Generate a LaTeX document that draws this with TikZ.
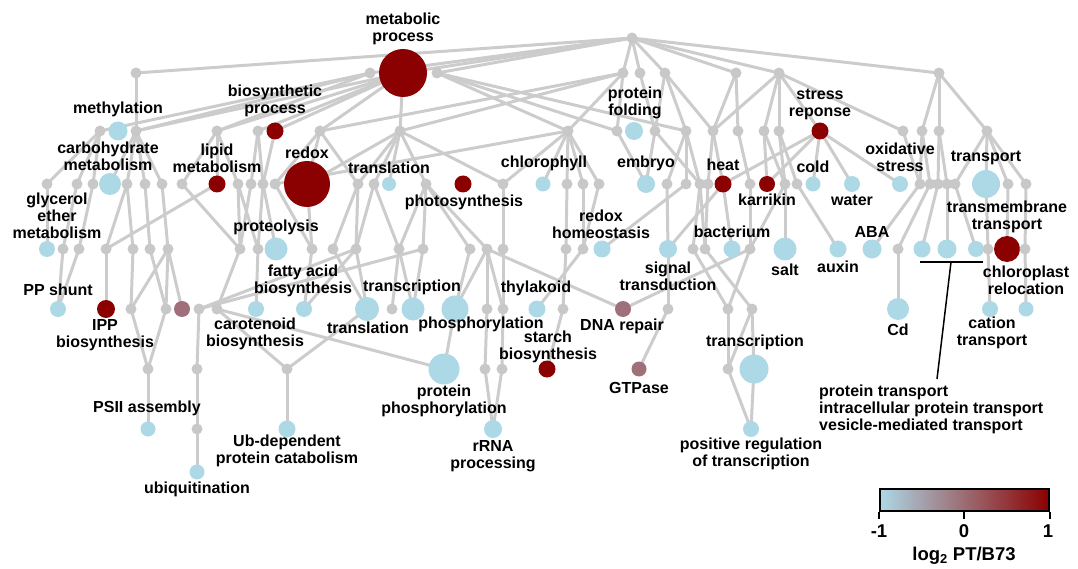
\documentclass[tikz,border=0pt]{standalone}
\usepackage{fontspec}
\setmainfont{Liberation Sans}
\usetikzlibrary{backgrounds}
\definecolor{edgegray}{HTML}{CCCCCC}
\definecolor{nodegray}{HTML}{C8C8C8}
\definecolor{upblue}{HTML}{ADD8E6}
\definecolor{downred}{HTML}{8B0000}
\definecolor{midmauve}{HTML}{A0707A}
\definecolor{barmid}{HTML}{A595A0}
% gray branch vertex and coloured term vertex
\newcommand\gvx[3]{\node[gn] (#1) at (#2,#3) {};}
\newcommand\tvx[5]{\node[cn, fill=#4, minimum size=#5] (#1) at (#2,#3) {};}
\begin{document}
\begin{tikzpicture}[x=1pt, y=-1pt,
  gn/.style={circle, fill=nodegray, inner sep=0pt, minimum size=11pt},
  cn/.style={circle, inner sep=0pt},
  lbl/.style={font=\fontsize{16}{17}\selectfont\bfseries, align=center, inner sep=0pt, text=black},
  bartxt/.style={font=\fontsize{18.5}{20}\selectfont\bfseries, inner sep=0pt},
  edge/.style={draw=edgegray, line width=3pt}]
\useasboundingbox (0,0) rectangle (1078,569);

% ---- vertices ----
\gvx{r}{632}{38}
% level a
\gvx{a136}{136}{73} \gvx{a370}{370}{73} \tvx{a403}{403}{73}{downred}{48}
\gvx{a437}{437}{73} \gvx{a623}{623}{73} \gvx{a640}{640}{73} \gvx{a665}{665}{73}
\gvx{a736}{736}{73} \gvx{a779}{779}{73} \gvx{a939}{939}{73}
% level b
\gvx{b100}{100}{131} \tvx{b118}{118}{131}{upblue}{19} \gvx{b136}{136}{131}
\gvx{b217}{217}{131} \gvx{b258}{258}{131} \tvx{b275}{275}{131}{downred}{17}
\gvx{b320}{320}{131} \gvx{b400}{400}{131} \gvx{b568}{568}{131} \gvx{b617}{617}{131}
\tvx{b634}{634}{131}{upblue}{18} \gvx{b655}{655}{131} \gvx{b686}{686}{131}
\gvx{b713}{713}{131} \gvx{b738}{738}{131} \gvx{b764}{764}{131} \gvx{b779}{779}{131}
\tvx{b820}{820}{131}{downred}{17} \gvx{b903}{903}{131} \gvx{b922}{922}{131}
\gvx{b939}{939}{131} \gvx{b987}{987}{131}
% level c
\gvx{c47}{47}{184} \gvx{c77}{77}{184} \gvx{c93}{93}{184} \tvx{c110}{110}{184}{upblue}{22}
\gvx{c127}{127}{184} \gvx{c145}{145}{184} \gvx{c162}{162}{184} \gvx{c182}{182}{184}
\tvx{c217}{217}{184}{downred}{17} \gvx{c238}{238}{184} \gvx{c251}{251}{184}
\gvx{c263}{263}{184} \gvx{c275}{275}{184} \tvx{c307}{307}{184}{downred}{46}
\gvx{c358}{358}{184} \gvx{c374}{374}{184} \tvx{c389}{389}{184}{upblue}{14}
\gvx{c426}{426}{184} \tvx{c463}{463}{184}{downred}{17} \gvx{c503}{503}{184}
\tvx{c543}{543}{184}{upblue}{15} \gvx{c567}{567}{184} \gvx{c583}{583}{184}
\gvx{c599}{599}{184} \tvx{c646}{646}{184}{upblue}{18} \gvx{c667}{667}{184}
\gvx{c686}{686}{184} \gvx{c700}{700}{184} \gvx{c708}{708}{184}
\tvx{c723}{723}{184}{downred}{17} \gvx{c750}{750}{184} \tvx{c767}{767}{184}{downred}{16}
\gvx{c785}{785}{184} \gvx{c797}{797}{184} \tvx{c813}{813}{184}{upblue}{15}
\tvx{c852}{852}{184}{upblue}{16} \tvx{c900}{900}{184}{upblue}{16}
\gvx{c920}{920}{184} \gvx{c930}{930}{184} \gvx{c938}{938}{184} \gvx{c947}{947}{184}
\gvx{c955}{955}{184} \tvx{c986}{986}{184}{upblue}{28} \gvx{c1008}{1008}{184}
\gvx{c1026}{1026}{184}
% level d
\tvx{d47}{47}{249}{upblue}{16} \gvx{d63}{63}{249} \gvx{d79}{79}{249} \gvx{d106}{106}{249}
\gvx{d133}{133}{249} \gvx{d150}{150}{249} \gvx{d168}{168}{249} \gvx{d240}{240}{249}
\gvx{d258}{258}{249} \tvx{d276}{276}{249}{upblue}{23} \gvx{d312}{312}{249}
\gvx{d333}{333}{249} \gvx{d356}{356}{249} \gvx{d399}{399}{249} \gvx{d423}{423}{249}
\gvx{d470}{470}{249} \gvx{d487}{487}{249} \gvx{d503}{503}{249} \gvx{d566}{566}{249}
\gvx{d583}{583}{249} \tvx{d602}{602}{249}{upblue}{17} \tvx{d668}{668}{249}{upblue}{18}
\gvx{d693}{693}{249} \gvx{d705}{705}{249} \tvx{d732}{732}{249}{upblue}{17}
\gvx{d750}{750}{249} \tvx{d785}{785}{249}{upblue}{23} \tvx{d838}{838}{249}{upblue}{17}
\tvx{d872}{872}{249}{upblue}{19} \gvx{d898}{898}{249} \tvx{d922}{922}{249}{upblue}{17}
\tvx{d947}{947}{249}{upblue}{19} \tvx{d976}{976}{249}{upblue}{16} \gvx{d988}{988}{249}
\tvx{d1007}{1007}{249}{downred}{26} \gvx{d1025}{1025}{249}
% level e
\tvx{e58}{58}{309}{upblue}{16} \tvx{e106}{106}{309}{downred}{18} \gvx{e131}{131}{309}
\gvx{e166}{166}{309} \tvx{e182}{182}{309}{midmauve}{16} \gvx{e199}{199}{309}
\gvx{e217}{217}{309} \tvx{e256}{256}{309}{upblue}{16} \tvx{e304}{304}{309}{upblue}{16}
\tvx{e367}{367}{309}{upblue}{24} \gvx{e392}{392}{309} \tvx{e413}{413}{309}{upblue}{23}
\tvx{e455}{455}{309}{upblue}{27} \gvx{e487}{487}{309} \gvx{e503}{503}{309}
\tvx{e537}{537}{309}{upblue}{17} \gvx{e563}{563}{309} \tvx{e623}{623}{309}{midmauve}{16}
\gvx{e668}{668}{309} \gvx{e728}{728}{309} \gvx{e752}{752}{309}
\tvx{e898}{898}{309}{upblue}{22} \tvx{e990}{990}{309}{upblue}{16}
\tvx{e1026}{1026}{309}{upblue}{15}
% level f
\gvx{f148}{148}{369} \gvx{f197}{197}{369} \gvx{f287}{287}{369}
\tvx{f444}{444}{369}{upblue}{31} \gvx{f485}{485}{369} \gvx{f502}{502}{369}
\tvx{f547}{547}{369}{downred}{17} \tvx{f639}{639}{369}{midmauve}{15}
\gvx{f728}{728}{369} \tvx{f754}{754}{369}{upblue}{29}
% levels h, i
\tvx{h148}{148}{429}{upblue}{15} \gvx{h197}{197}{429} \tvx{h287}{287}{429}{upblue}{17}
\tvx{h493}{493}{429}{upblue}{18} \tvx{h751}{751}{429}{upblue}{16}
\tvx{i197}{197}{472}{upblue}{15}

% ---- edges ----
\begin{pgfonlayer}{background}
\foreach \s/\t in {r/a136, r/a370, r/a403, r/a437, r/a623, r/a640, r/a665, r/a736, r/a779, r/a939,
  a136/b136, a370/b100, a370/b136, a370/b217, a403/b136, a403/b217, a403/b258, a403/b275,
  a403/b320, a403/b400, a437/b568, a437/b617, a437/b686, a623/b400, a623/b568, a623/b617,
  a623/b320, a640/b655, a665/b655, a665/b686, a665/b713, a736/b713, a736/b738,
  a779/b713, a779/b764, a779/b779, a779/b820, a779/b903, a939/b922, a939/b939, a939/b987,
  b100/c47, b100/c77, b100/c93, b136/c110, b136/c127, b136/c145, b136/c162,
  b217/c182, b217/c217, b217/c238, b258/c251, b258/c263, b275/c263, b320/c275, b320/c307,
  b320/c358, b400/c307, b400/c358, b400/c374, b400/c389, b400/c426, b400/c503,
  b568/c503, b568/c543, b568/c567, b568/c583, b568/c599, b568/c275, b617/c646,
  b655/c646, b655/c700, b686/c667, b686/c686, b686/c700, b713/c708, b713/c723,
  b738/c750, b764/c767, b764/c785, b779/c785, b779/c797,
  b820/c723, b820/c767, b820/c813, b820/c852, b820/c900, b903/c920, b922/c920, b922/c930,
  b939/c938, b939/c947, b987/c955, b987/c986, b987/c1008, b987/c1026,
  c47/d47, c77/d63, c93/d79, c127/d106, c127/d133, c145/d150, c162/d168, c217/d106,
  c182/d240, c238/d240, c238/d258, c251/d240, c263/d276, c263/d258, c275/d312, c307/d312,
  c358/d333, c358/d356, c374/d356, c374/d399, c426/d399, c426/d423, c426/d470, c426/d487,
  c503/d503, c567/d566, c583/d583, c599/d583, c686/d602, c667/d668, c723/d668,
  c700/d693, c700/d705, c708/d705, c723/d732, c750/d750, c785/d750, c785/d785, c797/d838,
  c920/d872, c930/d898, c938/d922, c947/d947, c955/d976, c986/d988, c1008/d1007, c1026/d1025,
  d63/e58, d79/e58, d106/e106, d133/e131, d150/e166, d168/e131, d168/e166, d168/e182,
  d240/e217, d258/e256, d312/e304, d356/e304, d333/e367, d356/e367, d356/e199, d423/e199,
  d399/e392, d399/e413, d423/e413, d470/e455, d487/e455, d487/e487, d487/e503, d487/e623,
  d503/e503, d583/e537, d566/e563, d668/e668, d750/e623, d693/e728, d705/e752, d750/e728,
  d898/e898, d988/e990, d1025/e1026,
  e131/f148, e166/f148, f148/h148, e199/f197, f197/h197, h197/i197, e217/f287, e367/f287,
  f287/h287, e217/f444, e455/f444, e487/f485, e503/f502, f485/h493, f502/h493,
  e563/f547, e668/f639, e728/f728, e752/f728, e752/f754, f728/h751, f754/h751}
  \draw[edge] (\s.center) -- (\t.center);
\end{pgfonlayer}

% ---- term labels ----
\node[lbl] (Lmetab) at (403,29) {metabolic\\process};
\node[lbl] (Lbiosyn) at (275,101) {biosynthetic\\process};
\node[lbl] (Lmeth) at (118,109) {methylation};
\node[lbl] (Lcarb) at (108,156) {carbohydrate\\metabolism};
\node[lbl] (Llipid) at (217,158) {lipid\\metabolism};
\node[lbl] (Lredox) at (307,153) {redox};
\node[lbl] (Ltransl1) at (389,168) {translation};
\node[lbl] (Lphoto) at (464,202) {photosynthesis};
\node[lbl] (Lchloro) at (544,163) {chlorophyll};
\node[lbl] (Lembryo) at (646,163) {embryo};
\node[lbl] (Lfold) at (635,103) {protein\\folding};
\node[lbl] (Lheat) at (723,165) {heat};
\node[lbl] (Lkarr) at (767,200) {karrikin};
\node[lbl] (Lstress) at (820,104) {stress\\reponse};
\node[lbl] (Lcold) at (813,167) {cold};
\node[lbl] (Lwater) at (852,200) {water};
\node[lbl] (Loxid) at (900,157) {oxidative\\stress};
\node[lbl] (Ltransp) at (986,158) {transport};
\node[lbl] (Lglyc) at (57,216) {glycerol\\ether\\metabolism};
\node[lbl] (Lprot) at (276,227) {proteolysis};
\node[lbl] (Lfatty) at (303,281) {fatty acid\\biosynthesis};
\node[lbl] (Lrhomeo) at (601,224) {redox\\homeostasis};
\node[lbl] (Lsignal) at (668,276) {signal\\transduction};
\node[lbl] (Lbact) at (732,232) {bacterium};
\node[lbl] (Lsalt) at (785,270) {salt};
\node[lbl] (Lauxin) at (838,267) {auxin};
\node[lbl] (LABA) at (872,232) {ABA};
\node[lbl] (Ltmt) at (1007,217) {transmembrane\\transport};
\node[lbl] (Lchlreloc) at (1026,280) {chloroplast\\relocation};
\node[lbl] (Lpp) at (58,290) {PP shunt};
\node[lbl] (Lipp) at (105,335) {IPP\\biosynthesis};
\node[lbl] (Lcarot) at (255,334) {carotenoid\\biosynthesis};
\node[lbl] (Ltransc1) at (412,287) {transcription};
\node[lbl] (Ltransl2) at (368,328) {translation};
\node[lbl] (Lphos) at (481,324) {phosphorylation};
\node[lbl] (Lthyl) at (536,288) {thylakoid};
\node[lbl] (Lstarch) at (548,347) {starch\\biosynthesis};
\node[lbl] (Ldna) at (622,326) {DNA repair};
\node[lbl] (Lgtp) at (639,388) {GTPase};
\node[lbl] (Ltransc2) at (755,342) {transcription};
\node[lbl] (Lcd) at (898,330) {Cd};
\node[lbl] (Lcation) at (992,333) {cation\\transport};
\node[lbl] (Lpphos) at (444,401) {protein\\phosphorylation};
\node[lbl] (Lrrna) at (493,456) {rRNA\\processing};
\node[lbl] (Lpsii) at (147,408) {PSII assembly};
\node[lbl] (Lub) at (287,451) {Ub-dependent\\protein catabolism};
\node[lbl] (Lubiq) at (197,489) {ubiquitination};
\node[lbl] (Lposreg) at (751,454) {positive regulation\\of transcription};
\node[lbl, align=left, anchor=north west] (Lptrans) at (819,385)
  {protein transport\\intracellular protein transport\\vesicle-mediated transport};

% ---- bracket for the three transport terms ----
\coordinate (brL) at (920,262);
\coordinate (brR) at (983,262);
\coordinate (brM) at (951,262);
\coordinate (brEnd) at (937,379);
\draw[black, line width=1.5pt] (brL) -- (brR);
\draw[black, line width=1.5pt] (brM) -- (brEnd);

% ---- colour scale ----
\node[draw=black, line width=2pt, minimum width=169pt, minimum height=22pt, inner sep=0pt,
  left color=upblue, middle color=barmid, right color=downred] (cbar) at (964,499.5) {};
\draw[black, line width=2pt] (cbar.south west) -- ++(0,7);
\draw[black, line width=2pt] (cbar.south) -- ++(0,7);
\draw[black, line width=2pt] (cbar.south east) -- ++(0,7);
\node[bartxt] (tm1) at (879,531) {-1};
\node[bartxt] (t0) at (964,531) {0};
\node[bartxt] (tp1) at (1048,531) {1};
\node[bartxt] (cbarlbl) at (964,556) {log\textsubscript{2} PT/B73};
\end{tikzpicture}
\end{document}
